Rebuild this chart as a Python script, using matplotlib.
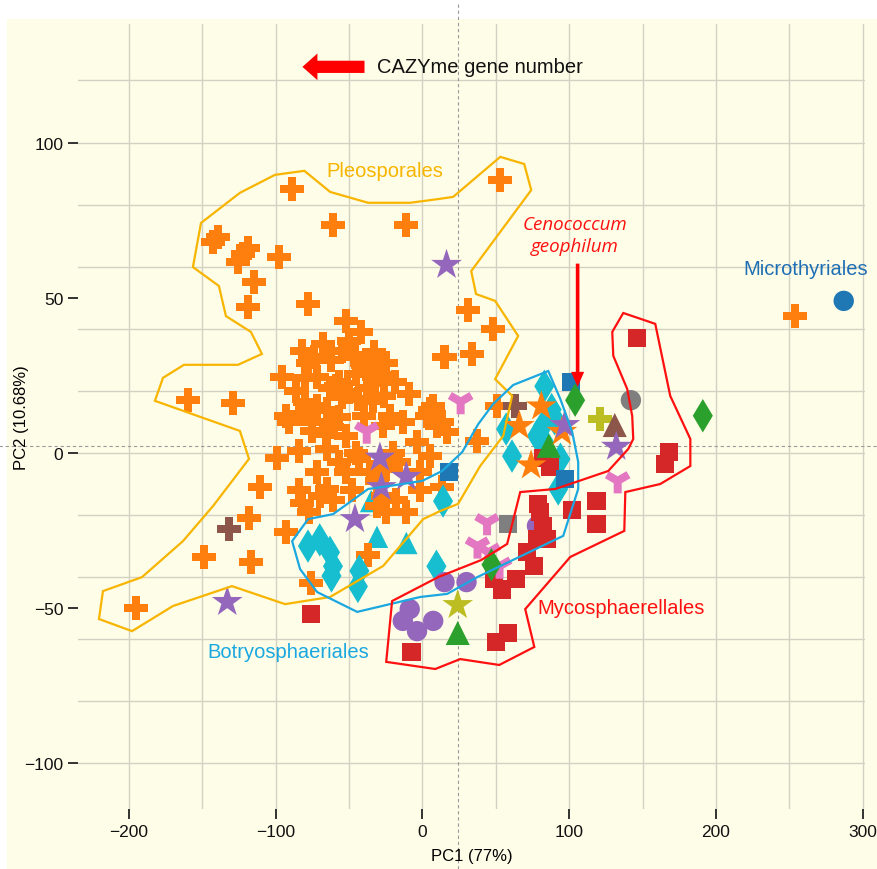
import matplotlib
matplotlib.use('Agg')
import matplotlib.pyplot as plt
import numpy as np
from matplotlib.path import Path
from matplotlib.patches import Polygon, FancyArrowPatch, Rectangle

# ---------------- data ----------------
# Pleosporales (orange crosses)
pleo_x = [-89, -61, -11, -143, -139, -119, -126, -122, -98, -115, -119, -78, -160, -129, 52.5, 31, 48, 34, 15, 254,
          -52, -42, -50, -82, -74, -78, -33, -41, -28, -45, -33, -96, -80, -72, -57, -63, -50, -44, -34, -80,
          -72, -65, -93, -84, -75, -57, -38, -59, -29, -55, -46, -38,
          -25, -19, -9, -26, 7, 3, -22, 13, 51, 5,
          -99, -111, -118, -93, -91, -75, -84, -65, -57, -72, -84, -82, -77, -65, -61, -52, -48, -62, -52, -43,
          -31, -31, -27,
          -27, -13, 10, 17, 37, -4, 5, -16, -25, -2, 13, -18, -25, -11, -2,
          -76, -37, -117, -149, -195,
          -68, -62, -86, -66, -45, -36, -20, -40, -70, -55]
pleo_y = [85, 73.5, 73.5, 68, 69.5, 66, 61.6, 64, 63, 55, 47, 48, 17, 16, 88, 46, 40, 32, 31, 44,
          42.6, 39, 36, 33, 31, 29, 32.5, 29, 29, 25.5, 24.5, 24.5, 24, 24.5, 23, 21, 19.7, 17.4, 16.8, 16.5,
          15, 14, 12, 12.6, 10, 11.6, 28, 21.6, 25, 33, 31, 21,
          29, 23, 19, 18.5, 15, 12, 12, 10, 15, 14,
          -1.5, -11, -21, -25.6, 10, 7, 0.6, 1.3, -3, -6, -12, -16, -19, -11.6, -15, -6, -12, 8.4, 5.6, -2,
          -9, -17, -14,
          8.7, 10, 8.7, 6.8, 4, 3.5, -1, -3, -5, -6, -11, -15, -19, -19, -12,
          -42, -33, -35, -33.5, -50,
          35, 30, 20, 6, 0, -6, 0, 12, -14, 18]

purple_star_x = [16.4, -29, -28, -11, -46, -133, 132, 97]
purple_star_y = [60.6, -1.5, -11, -7.7, -21.3, -48, 2, 9]

orange_star_x = [81, 66, 95, 74]
orange_star_y = [15, 8.7, 6.8, -4]

teal_diamond_x = [83, 88, 82, 78, 90, 57, 61, 94, 92.5, 83, -78, -70, -63, -61, -62, -44, -43, 14, 9.5]
teal_diamond_y = [21.5, 14, 8.7, 5.5, 11, 7.7, -1, -2, -11.6, 3.5, -30, -28, -32, -36.5, -39.6, -43, -38, -15.5, -36.5]

teal_tri_x = [-31, -11, -35]
teal_tri_y = [-27, -29, -15.5]

red_sq_x = [146, 82, 87, 168, 165, 79, 102, 118.6, 118.6, 80, 82, 85, 78, 71, 76, 64, 49, 54, 58, 50, -76, -7.5]
red_sq_y = [37, -1.5, -4.5, 0.3, -3.5, -16.5, -18.5, -15.5, -23, -19, -23.5, -27.7, -27.7, -32, -36.5, -40.6, -40.6,
            -44, -58, -61, -52, -64]

blue_sq_x = [101, 18, 97]
blue_sq_y = [23, -6, -8.5]

blue_circle_x = [287]
blue_circle_y = [49]

green_diamond_x = [104, 191, 47]
green_diamond_y = [17, 12, -36]

green_tri_x = [86, 24]
green_tri_y = [2.3, -58]

gray_circle_x = [142]
gray_circle_y = [17]
gray_sq_x = [58]
gray_sq_y = [-23]

olive_cross_x = [121]
olive_cross_y = [11]
olive_star_x = [24]
olive_star_y = [-49]

brown_tri_x = [131]
brown_tri_y = [9]
brown_cross_x = [63, -132]
brown_cross_y = [15, -24.5]

pink_y_x = [26, -38, 133, 44, 37.5, 45, 52.5]
pink_y_y = [16.5, 7, -9, -22.5, -30, -32, -36.5]

purple_circle_x = [78, 15, 30, -8.7, -13.4, -3.7, 7.3]
purple_circle_y = [-23.5, -41.6, -41.6, -50.3, -54.1, -57.4, -54.1]

# contour polygons
pleo_poly_x = [-80.5, -62.9, -37.0, -8.4, 10.7, 20.9, 53.0, 69.3, 74.1, 33.2, 36.5, 49.5, 65.2, 49.5, 61.1, 55.0,
               39.3, 24.3, 12.1, 0.5, -26.8, -63.0, -93.6, -129.8, -170.0, -197.9, -220.4, -217.7, -191.1, -163.2,
               -142.7, -118.2, -124.4, -182.3, -176.8, -162.5, -125.7, -109.4, -116.9, -133.9, -138.7, -156.4,
               -150.9, -124.4, -100.5]
pleo_poly_y = [90.9, 84.1, 80.6, 80.6, 81.8, 82.5, 95.4, 93.1, 84.7, 58.6, 51.2, 49.0, 37.7, 23.8, 18.4, 5.5,
               -4.2, -16.4, -18.7, -21.3, -36.4, -46.4, -48.7, -42.9, -49.3, -57.4, -53.5, -44.5, -40.0, -28.4,
               -17.1, -1.9, 7.1, 16.8, 24.2, 28.4, 28.4, 31.9, 39.0, 44.1, 53.8, 59.9, 74.1, 83.8, 89.6]

botr_poly_x = [85.7, 93.9, 102.0, 106.1, 106.1, 95.9, 37.3, 16.8, -1.6, -44.5, -71.8, -83.4, -88.8, -77.9, -60.9,
               -37.0, -22.0, -0.2, 13.4, 27.1, 38.0, 48.2, 61.8]
botr_poly_y = [26.4, 17.4, 6.8, -2.9, -11.6, -26.7, -40.0, -45.4, -46.4, -51.2, -44.8, -37.4, -28.4, -21.3, -19.7,
               -11.6, -10.6, -9.0, -5.8, 0.3, 9.3, 15.8, 21.9]

myco_poly_x = [136.8, 158.6, 168.8, 182.5, 182.5, 162.0, 138.2, 137.5, 100.7, 70.0, 76.2, 52.3, 25.7, 8.7, -24.7,
               -20.7, 10.7, 40.0, 57.7, 66.6, 90.5, 126.6, 140.2, 143.6, 142.9, 139.5, 130.0, 129.3]
myco_poly_y = [45.1, 41.6, 18.4, 4.5, -4.2, -10.0, -12.6, -25.1, -33.5, -50.3, -62.5, -68.3, -66.4, -69.6, -67.3,
               -47.7, -40.0, -34.5, -29.3, -12.6, -11.6, -5.8, 1.3, 4.5, 11.9, 20.6, 31.3, 39.0]

x_ticks = [-200, -100, 0, 100, 200, 300]
y_ticks = [-100, -50, 0, 50, 100]
x_grid = [-200, -150, -100, -50, 0, 50, 100, 150, 200, 250, 300]
y_grid = [-100, -80, -60, -40, -20, 0, 20, 40, 60, 80, 100, 120]

# ---------------- style ----------------
BG = '#FEFDE8'
ORANGE = '#FF7F0E'
PURPLE = '#9467BD'
TEAL = '#17BECF'
RED = '#D62728'
BLUE = '#1F77B4'
GREEN = '#2CA02C'
GRAY = '#7F7F7F'
OLIVE = '#BCBD22'
BROWN = '#8C564B'
PINK = '#E377C2'
YELLOW_LINE = '#F7B500'
CYAN_LINE = '#1BA8E0'
RED_LINE = '#FF1010'

plt.rcParams['font.family'] = ['Liberation Sans', 'DejaVu Sans']


def y_marker(w=0.16, L=0.5):
    verts = []
    for a in [-90, 30, 150]:
        r = np.deg2rad(a)
        d = np.array([np.cos(r), np.sin(r)])
        p = np.array([-np.sin(r), np.cos(r)])
        verts.append(L * d - w * p)
        verts.append(L * d + w * p)
        b = np.deg2rad(a + 60)
        verts.append(np.array([np.cos(b), np.sin(b)]) * w / np.sin(np.deg2rad(60)))
    verts.append(verts[0])
    codes = [Path.MOVETO] + [Path.LINETO] * (len(verts) - 2) + [Path.CLOSEPOLY]
    return Path(np.array(verts), codes)


fig = plt.figure(figsize=(8.78, 8.70), dpi=100, facecolor='white')
bg_rect = Rectangle((7 / 878, 0), 1, 1 - 20 / 870, transform=fig.transFigure,
                    facecolor=BG, edgecolor='none', zorder=-10)
fig.add_artist(bg_rect)
ax = fig.add_axes([78 / 878, 1 - 810 / 870, (865 - 78) / 878, (810 - 25) / 870])
ax.set_zorder(1)
ax.set_facecolor(BG)
ax.set_xlim(-234.7, 301.5)
ax.set_ylim(-114.7, 138.2)
for s in ax.spines.values():
    s.set_visible(False)

for gx in x_grid:
    ax.axvline(gx, color='#D3D2C2', lw=1.0, zorder=0.5)
for gy in y_grid:
    ax.axhline(gy, color='#D3D2C2', lw=1.0, zorder=0.5)

# reference dashed lines (extend beyond panel)
ax.axvline(23.9, ymin=-0.077, ymax=1.026, color='#9A9A9A', lw=0.8, ls=(0, (3, 2.5)),
           clip_on=False, zorder=0.6)
ax.axhline(2.4, xmin=-0.1, xmax=1.02, color='#9A9A9A', lw=0.8, ls=(0, (3, 2.5)),
           clip_on=False, zorder=0.6)

ax.set_xticks(x_ticks)
ax.set_yticks(y_ticks)
ax.tick_params(direction='out', length=7, width=1.3, color='#222222', labelsize=12.5, pad=3.5,
               labelcolor='#111111')
ax.set_xlabel('PC1 (77%)', fontsize=12)
ax.set_ylabel('PC2 (10.68%)', fontsize=12)
ax.xaxis.set_label_coords(0.5, -(857 - 810) / 785)
ax.yaxis.set_label_coords(-(78 - 22) / 787, 0.5)
ax.xaxis.label.set_va('center')
ax.yaxis.label.set_va('center')

kw = dict(linewidths=0, edgecolors='none')
ax.scatter(teal_tri_x, teal_tri_y, marker='^', s=260, c=TEAL, zorder=2, **kw)
ax.scatter(pleo_x, pleo_y, marker='P', s=300, c=ORANGE, zorder=3, **kw)
ax.scatter(teal_diamond_x, teal_diamond_y, marker='d', s=290, c=TEAL, zorder=3.5, **kw)
ax.scatter(red_sq_x, red_sq_y, marker='s', s=170, c=RED, zorder=4, **kw)
ax.scatter(purple_circle_x, purple_circle_y, marker='o', s=215, c=PURPLE, zorder=3.6, **kw)
ax.scatter(pink_y_x, pink_y_y, marker=y_marker(), s=340, c=PINK, zorder=4, **kw)
ax.scatter(blue_sq_x, blue_sq_y, marker='s', s=170, c=BLUE, zorder=4, **kw)
ax.scatter(blue_circle_x, blue_circle_y, marker='o', s=215, c=BLUE, zorder=4, **kw)
ax.scatter(green_diamond_x, green_diamond_y, marker='d', s=290, c=GREEN, zorder=4, **kw)
ax.scatter(green_tri_x, green_tri_y, marker='^', s=300, c=GREEN, zorder=4, **kw)
ax.scatter(gray_circle_x, gray_circle_y, marker='o', s=215, c=GRAY, zorder=4, **kw)
ax.scatter(gray_sq_x, gray_sq_y, marker='s', s=170, c=GRAY, zorder=4, **kw)
ax.scatter(olive_cross_x, olive_cross_y, marker='P', s=300, c=OLIVE, zorder=4, **kw)
ax.scatter(olive_star_x, olive_star_y, marker='*', s=540, c=OLIVE, zorder=4, **kw)
ax.scatter(brown_tri_x, brown_tri_y, marker='^', s=300, c=BROWN, zorder=4, **kw)
ax.scatter(brown_cross_x, brown_cross_y, marker='P', s=300, c=BROWN, zorder=4, **kw)
ax.scatter(orange_star_x, orange_star_y, marker='*', s=540, c=ORANGE, zorder=4.5, **kw)
ax.scatter(purple_star_x, purple_star_y, marker='*', s=540, c=PURPLE, zorder=4.5, **kw)

# contour polygons
for px, py, col in [(pleo_poly_x, pleo_poly_y, YELLOW_LINE),
                    (botr_poly_x, botr_poly_y, CYAN_LINE),
                    (myco_poly_x, myco_poly_y, RED_LINE)]:
    ax.add_patch(Polygon(np.column_stack([px, py]), closed=True, fill=False,
                         edgecolor=col, lw=1.6, zorder=6))

# labels
ax.text(-25.4, 90.9, 'Pleosporales', color=YELLOW_LINE, fontsize=14.5, ha='center', va='center', zorder=7)
ax.text(-91.2, -63.8, 'Botryosphaeriales', color=CYAN_LINE, fontsize=14.5, ha='center', va='center', zorder=7)
ax.text(135.4, -49.9, 'Mycosphaerellales', color=RED_LINE, fontsize=14.5, ha='center', va='center', zorder=7)
ax.text(260.8, 59.3, 'Microthyriales', color='#1F6FB4', fontsize=14.5, ha='center', va='center', zorder=7,
        clip_on=False)
ax.text(104, 70.2, 'Cenococcum\ngeophilum', color=RED_LINE, fontsize=13.5, ha='center', va='center',
        style='italic', family=['Open Sans', 'DejaVu Sans'], linespacing=1.3, zorder=7)
ax.text(-30.9, 124.4, 'CAZYme gene number', color='#111111', fontsize=14.5, ha='left', va='center', zorder=7)

# arrows
ax.add_patch(FancyArrowPatch((-39.5, 124.4), (-81.8, 124.4),
                             arrowstyle='simple,head_length=0.54,head_width=0.96,tail_width=0.44',
                             mutation_scale=20, color='#FF0000', lw=0, shrinkA=0, shrinkB=0, zorder=7))
ax.add_patch(FancyArrowPatch((105.7, 61.0), (105.7, 21.3),
                             arrowstyle='simple,head_length=1.08,head_width=0.94,tail_width=0.26',
                             mutation_scale=10, color='#FF0000', lw=0, shrinkA=0, shrinkB=0, zorder=7))

fig.savefig('out.png', dpi=100, facecolor='white')
